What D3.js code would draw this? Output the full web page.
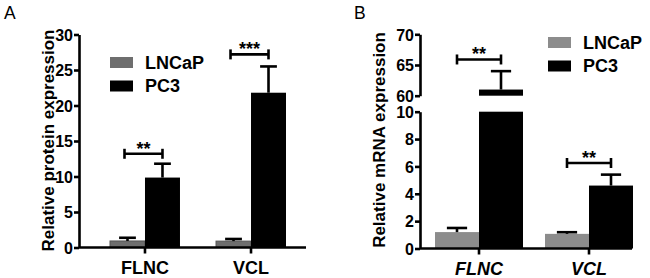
<!DOCTYPE html>
<html>
<head>
<meta charset="utf-8">
<script src="https://cdn.jsdelivr.net/npm/d3@7"></script>
<style>
  body { margin: 0; background: #fff; }
  text { font-family: "Liberation Sans", Arial, sans-serif; }
</style>
</head>
<body>
<script>
// Two bar panels: protein (A) and mRNA (B, broken y axis)

const w = 650;
const h = 278;

const genes = ["FLNC", "VCL"];
const cellLines = ["LNCaP", "PC3"];

// panel A - relative protein expression
const proteinLNCaP = [0.92, 0.9];
const proteinLNCaPErr = [0.45, 0.3];
const proteinPC3 = [9.85, 21.8];
const proteinPC3Err = [1.95, 3.7];
const proteinTicks = [0, 5, 10, 15, 20, 25, 30];
const proteinStars = ["**", "***"];
const proteinStarY = [13.2, 27.2];

// panel B - relative mRNA expression
const mrnaLNCaP = [1.2, 1.07];
const mrnaLNCaPErr = [0.3, 0.12];
const mrnaPC3 = [61, 4.6];
const mrnaPC3Err = [3, 0.8];
const mrnaLowTicks = [0, 2, 4, 6, 8, 10];
const mrnaHighTicks = [60, 65, 70];
const mrnaStars = ["**", "**"];
const mrnaStarY = [65.9, 6.25];

const font = "'Liberation Sans', Arial, sans-serif";
const lw = 2.6;

const svg = d3.select("body")
  .append("svg")
  .attr("width", w)
  .attr("height", h);

function yAxis(g, scale, ticks, x) {
  const ax = d3.axisLeft(scale).tickValues(ticks).tickSize(5).tickSizeOuter(0).tickPadding(1);
  const a = g.append("g").attr("transform", `translate(${x},0)`).call(ax);
  a.attr("font-size", null).attr("font-family", null);
  a.select(".domain").attr("stroke-width", lw).attr("stroke", "#000");
  a.selectAll(".tick line").attr("stroke-width", lw).attr("stroke", "#000");
  a.selectAll(".tick text")
    .attr("font-family", font).attr("font-size", 16).attr("font-weight", "bold").attr("fill", "#000")
    .attr("dy", "0.36em");
  return a;
}

function xAxis(g, xScale, y, x0, x1, italic) {
  g.append("line")
    .attr("x1", x0).attr("x2", x1).attr("y1", y).attr("y2", y)
    .attr("stroke", "#000").attr("stroke-width", lw);
  const ax = d3.axisBottom(xScale).tickSize(6).tickSizeOuter(0).tickPadding(8);
  const a = g.append("g").attr("transform", `translate(0,${y})`).call(ax);
  a.attr("font-size", null).attr("font-family", null);
  a.select(".domain").remove();
  a.selectAll(".tick line").attr("stroke-width", lw).attr("stroke", "#000");
  a.selectAll(".tick text")
    .attr("font-family", font).attr("font-size", 18).attr("font-weight", "bold")
    .attr("font-style", italic ? "italic" : "normal").attr("fill", "#000");
}

function errorBar(g, cx, yBase, yTop, capW) {
  g.append("line")
    .attr("x1", cx).attr("x2", cx).attr("y1", yBase).attr("y2", yTop)
    .attr("stroke", "#000").attr("stroke-width", lw);
  g.append("line")
    .attr("x1", cx - capW / 2).attr("x2", cx + capW / 2).attr("y1", yTop).attr("y2", yTop)
    .attr("stroke", "#000").attr("stroke-width", lw);
}

function bracket(g, xa, xb, y, label) {
  g.append("line").attr("x1", xa).attr("x2", xb).attr("y1", y).attr("y2", y)
    .attr("stroke", "#000").attr("stroke-width", lw);
  [xa, xb].forEach(x => {
    g.append("line").attr("x1", x).attr("x2", x).attr("y1", y - 5).attr("y2", y + 5)
      .attr("stroke", "#000").attr("stroke-width", lw);
  });
  g.append("text")
    .attr("x", (xa + xb) / 2).attr("y", y + 1)
    .attr("text-anchor", "middle")
    .attr("font-size", 18).attr("font-weight", "bold")
    .text(label);
}

function legend(g, x, y, colors) {
  cellLines.forEach((name, i) => {
    g.append("rect")
      .attr("x", x).attr("y", y + i * 23.5)
      .attr("width", 23).attr("height", 11)
      .attr("fill", colors[i]);
    g.append("text")
      .attr("x", x + 35).attr("y", y + i * 23.5 + 11.5)
      .attr("font-size", 18).attr("font-weight", "bold")
      .text(name);
  });
}

function yLabel(g, x, y, label) {
  g.append("text")
    .attr("transform", `translate(${x},${y}) rotate(-90)`)
    .attr("text-anchor", "middle")
    .attr("font-size", 17).attr("font-weight", "bold")
    .text(label);
}

// ---------- Panel A ----------
const gA = svg.append("g");
const colorsA = ["#6e6e6e", "#000"];

const yA = d3.scaleLinear().domain([0, 30]).range([247.5, 34.5]);
const xA = d3.scaleBand().domain(genes).range([110, 286]).paddingInner(0.34);
const xA1 = d3.scaleBand().domain(cellLines).range([0, xA.bandwidth()]);

const seriesA = [
  { name: "LNCaP", vals: proteinLNCaP, errs: proteinLNCaPErr },
  { name: "PC3", vals: proteinPC3, errs: proteinPC3Err }
];

seriesA.forEach((s, si) => {
  genes.forEach((gene, gi) => {
    const x = xA(gene) + xA1(s.name);
    gA.append("rect")
      .attr("x", x).attr("y", yA(s.vals[gi]))
      .attr("width", xA1.bandwidth()).attr("height", yA(0) - yA(s.vals[gi]))
      .attr("fill", colorsA[si])
      .attr("stroke", si === 0 ? "#555" : "none").attr("stroke-width", 1);
    errorBar(gA, x + xA1.bandwidth() / 2, yA(s.vals[gi]), yA(s.vals[gi] + s.errs[gi]), xA1.bandwidth() * 0.48);
  });
});

genes.forEach((gene, gi) => {
  const xa = xA(gene) + xA1("LNCaP") + xA1.bandwidth() / 2 - 3;
  const xb = xA(gene) + xA1("PC3") + xA1.bandwidth() / 2;
  bracket(gA, xa, xb, yA(proteinStarY[gi]), proteinStars[gi]);
});

yAxis(gA, yA, proteinTicks, 79);
xAxis(gA, xA, 247.5, 79, 306, false);
legend(gA, 110, 57, colorsA);
yLabel(gA, 54, 140.5, "Relative protein expression");
gA.append("text").attr("x", 4).attr("y", 18.5).attr("font-size", 17.5).text("A");

// ---------- Panel B ----------
const gB = svg.append("g");
const colorsB = ["#8c8c8c", "#000"];

const yLow = d3.scaleLinear().domain([0, 10]).range([248.5, 111.7]);
const yHigh = d3.scaleLinear().domain([60, 70]).range([95.7, 34.3]);
const xB = d3.scaleBand().domain(genes).range([435, 633]).paddingInner(0.2);
const xB1 = d3.scaleBand().domain(cellLines).range([0, xB.bandwidth()]);

const seriesB = [
  { name: "LNCaP", vals: mrnaLNCaP, errs: mrnaLNCaPErr },
  { name: "PC3", vals: mrnaPC3, errs: mrnaPC3Err }
];

seriesB.forEach((s, si) => {
  genes.forEach((gene, gi) => {
    const x = xB(gene) + xB1(s.name);
    const v = s.vals[gi];
    const bw = xB1.bandwidth();
    gB.append("rect")
      .attr("x", x).attr("y", yLow(Math.min(v, 10)))
      .attr("width", bw).attr("height", yLow(0) - yLow(Math.min(v, 10)))
      .attr("fill", colorsB[si]);
    if (v > 60) {
      // part of the bar above the axis break
      gB.append("rect")
        .attr("x", x).attr("y", yHigh(v))
        .attr("width", bw).attr("height", yHigh(60) - yHigh(v))
        .attr("fill", colorsB[si]);
      errorBar(gB, x + bw / 2, yHigh(v), yHigh(v + s.errs[gi]), bw * 0.46);
    } else {
      errorBar(gB, x + bw / 2, yLow(v), yLow(v + s.errs[gi]), bw * 0.46);
    }
  });
});

genes.forEach((gene, gi) => {
  const xa = xB(gene) + xB1("LNCaP") + xB1.bandwidth() / 2;
  const xb = xB(gene) + xB1("PC3") + xB1.bandwidth() / 2;
  const ys = mrnaStarY[gi] > 10 ? yHigh(mrnaStarY[gi]) : yLow(mrnaStarY[gi]);
  bracket(gB, xa, xb, ys, mrnaStars[gi]);
});

yAxis(gB, yLow, mrnaLowTicks, 420);
yAxis(gB, yHigh, mrnaHighTicks, 420);
xAxis(gB, xB, 248.5, 420, 632, true);
legend(gB, 548, 37, colorsB);
yLabel(gB, 385, 140, "Relative mRNA expression");
gB.append("text").attr("x", 354).attr("y", 18.5).attr("font-size", 17.5).text("B");
</script>
</body>
</html>
